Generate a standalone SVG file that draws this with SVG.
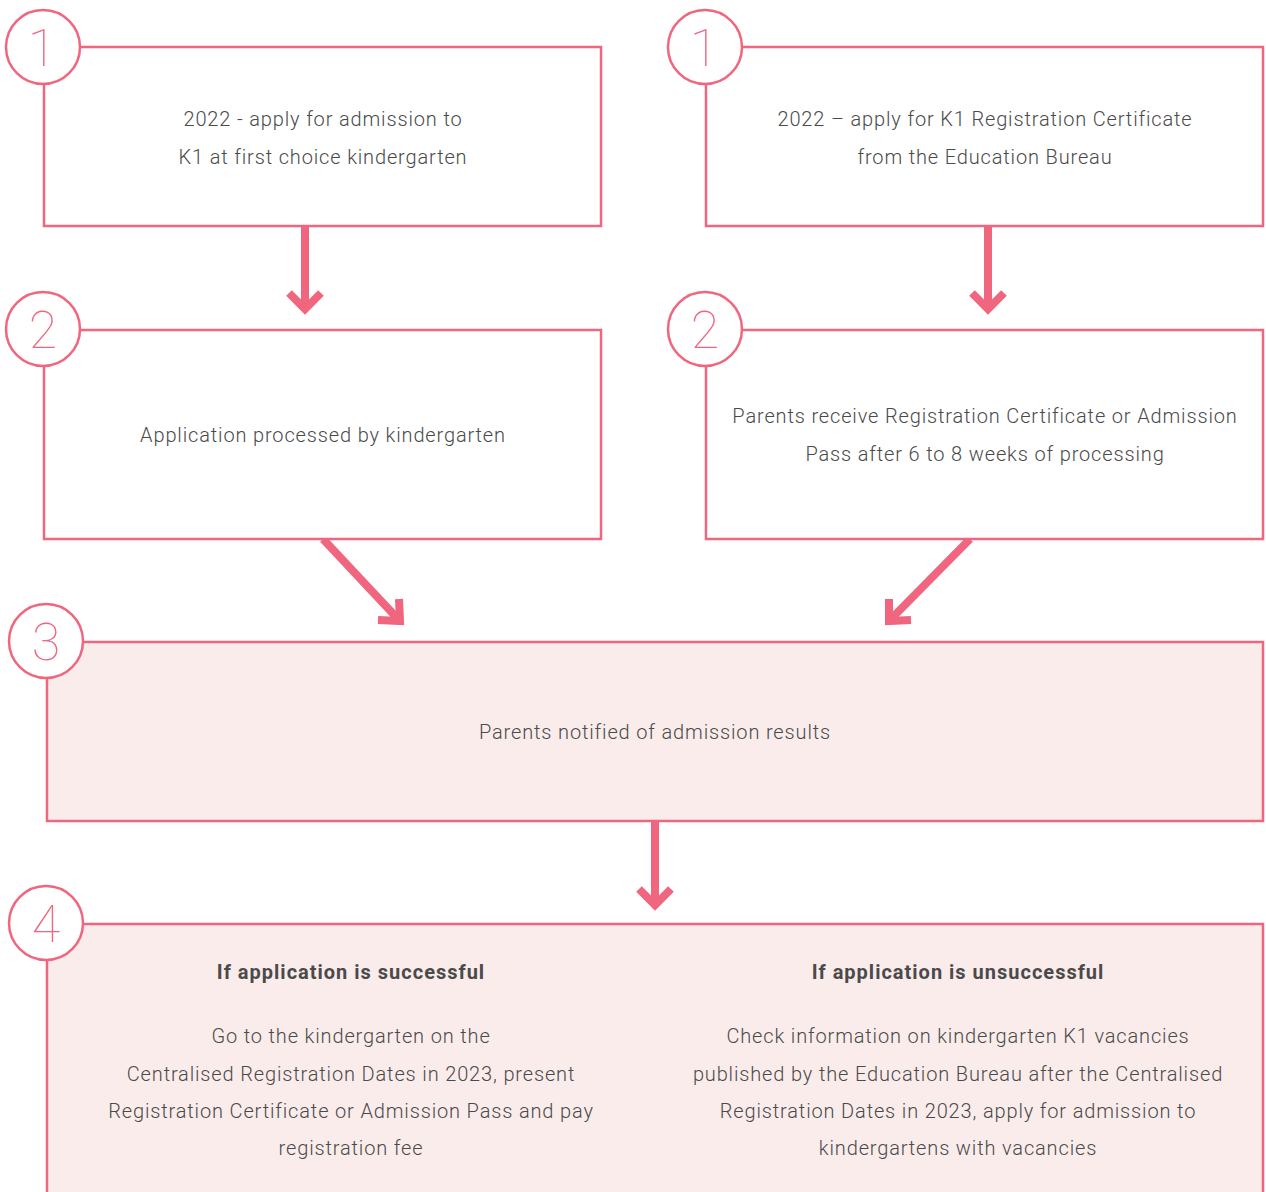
<svg xmlns="http://www.w3.org/2000/svg" width="1266" height="1192" viewBox="0 0 1266 1192">
<style>
.box{fill:#ffffff;stroke:#f0667f;stroke-width:2.5}
.boxf{fill:#fbecec;stroke:#f0667f;stroke-width:2.5}
.circ{fill:#ffffff;stroke:#f0667f;stroke-width:2.5}
.num{font-family:Roboto,"Liberation Sans",sans-serif;font-weight:100;font-size:52px;fill:#f0667f;text-anchor:middle}
.t{font-family:Roboto,"Liberation Sans",sans-serif;font-weight:300;font-size:20px;letter-spacing:0.85px;fill:#4a4a4a;text-anchor:middle}
.b{font-family:Roboto,"Liberation Sans",sans-serif;font-weight:700;font-size:20px;letter-spacing:1px;fill:#4a4a4a;text-anchor:middle}
.arr{fill:none;stroke:#f0667f;stroke-width:8}
</style>
<g id="connectors">
  <line class="arr" x1="305" y1="226" x2="305" y2="306"/>
  <polyline class="arr" points="289,293 305,309 321,293"/>
  <line class="arr" x1="988" y1="226" x2="988" y2="306"/>
  <polyline class="arr" points="972,293 988,309 1004,293"/>
  <line class="arr" x1="323" y1="539" x2="398" y2="619"/>
  <polyline class="arr" points="378,620 400,621 399,599"/>
  <line class="arr" x1="970" y1="539" x2="891" y2="619"/>
  <polyline class="arr" points="911,620 889,621 889,599"/>
  <line class="arr" x1="655" y1="821" x2="655" y2="902"/>
  <polyline class="arr" points="639,889 655,905 671,889"/>
</g>
<g id="node1a">
  <rect class="box" x="44" y="47" width="557" height="179"/>
  <circle class="circ" cx="43" cy="47" r="37"/>
  <text class="num" x="42" y="66">1</text>
  <text class="t" x="323" y="126">2022 - apply for admission to</text>
  <text class="t" x="323" y="164">K1 at first choice kindergarten</text>
</g>
<g id="node1b">
  <rect class="box" x="706" y="47" width="557" height="179"/>
  <circle class="circ" cx="705" cy="47" r="37"/>
  <text class="num" x="704" y="66">1</text>
  <text class="t" x="985" y="126">2022 – apply for K1 Registration Certificate</text>
  <text class="t" x="985" y="164">from the Education Bureau</text>
</g>
<g id="node2a">
  <rect class="box" x="44" y="330" width="557" height="209"/>
  <circle class="circ" cx="43" cy="329" r="37"/>
  <text class="num" x="43" y="348">2</text>
  <text class="t" x="323" y="442">Application processed by kindergarten</text>
</g>
<g id="node2b">
  <rect class="box" x="706" y="330" width="557" height="209"/>
  <circle class="circ" cx="705" cy="329" r="37"/>
  <text class="num" x="705" y="348">2</text>
  <text class="t" x="985" y="423">Parents receive Registration Certificate or Admission</text>
  <text class="t" x="985" y="461">Pass after 6 to 8 weeks of processing</text>
</g>
<g id="node3">
  <rect class="boxf" x="47" y="642" width="1216" height="179"/>
  <circle class="circ" cx="46" cy="641" r="37"/>
  <text class="num" x="46" y="660">3</text>
  <text class="t" x="655" y="739">Parents notified of admission results</text>
</g>
<g id="node4">
  <rect class="boxf" x="47" y="924" width="1216" height="290"/>
  <circle class="circ" cx="46" cy="923" r="37"/>
  <text class="num" x="46" y="942">4</text>
  <text class="b" x="351" y="979">If application is successful</text>
  <text class="t" x="351" y="1043">Go to the kindergarten on the</text>
  <text class="t" x="351" y="1081">Centralised Registration Dates in 2023, present</text>
  <text class="t" x="351" y="1118">Registration Certificate or Admission Pass and pay</text>
  <text class="t" x="351" y="1155">registration fee</text>
  <text class="b" x="958" y="979">If application is unsuccessful</text>
  <text class="t" x="958" y="1043">Check information on kindergarten K1 vacancies</text>
  <text class="t" x="958" y="1081">published by the Education Bureau after the Centralised</text>
  <text class="t" x="958" y="1118">Registration Dates in 2023, apply for admission to</text>
  <text class="t" x="958" y="1155">kindergartens with vacancies</text>
</g>
</svg>
